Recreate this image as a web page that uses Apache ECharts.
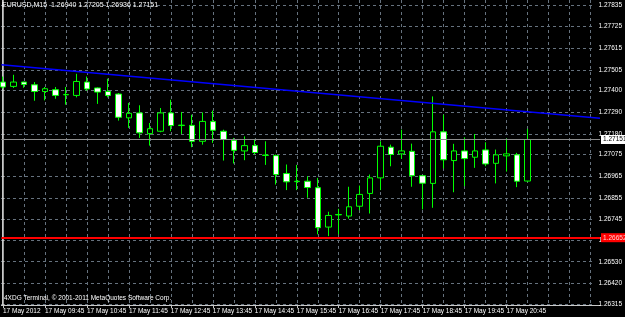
<!DOCTYPE html>
<html>
<head>
<meta charset="utf-8">
<script src="https://cdn.jsdelivr.net/npm/echarts@6/dist/echarts.min.js"></script>
<style>
  html, body { margin: 0; padding: 0; background: #000; }
  #chart { width: 625px; height: 317px; }
</style>
</head>
<body>
<div id="chart"></div>
<script>
// EURUSD M15, 17 May 2012, bars from 08:45 to 21:15
var opens = [1.27443, 1.27421, 1.27443, 1.27429, 1.27395, 1.27404, 1.27378, 1.27375, 1.27443, 1.27413,
             1.27395, 1.27382, 1.27261, 1.27286, 1.27181, 1.27193, 1.27286, 1.27222, 1.27223, 1.27142,
             1.27242, 1.27193, 1.27147, 1.27093, 1.27120, 1.27070, 1.27069, 1.26978, 1.26937, 1.26939,
             1.26906, 1.26706, 1.26768, 1.26762, 1.26812, 1.26877, 1.26956, 1.27112, 1.27078, 1.27091,
             1.26967, 1.26928, 1.27190, 1.27044, 1.27093, 1.27061, 1.27098, 1.27030, 1.27068, 1.27073,
             1.26940];
var highs = [1.27471, 1.27480, 1.27445, 1.27443, 1.27418, 1.27418, 1.27418, 1.27485, 1.27471, 1.27416,
             1.27460, 1.27387, 1.27337, 1.27325, 1.27235, 1.27311, 1.27353, 1.27291, 1.27277, 1.27289,
             1.27298, 1.27201, 1.27159, 1.27167, 1.27154, 1.27142, 1.27075, 1.27024, 1.27022, 1.26964,
             1.26956, 1.26784, 1.26799, 1.26911, 1.26917, 1.26973, 1.27142, 1.27125, 1.27201, 1.27130,
             1.26968, 1.27370, 1.27277, 1.27129, 1.27162, 1.27179, 1.27137, 1.27100, 1.27156, 1.27083,
             1.27205];
var lows = [1.27410, 1.27413, 1.27414, 1.27348, 1.27350, 1.27358, 1.27328, 1.27365, 1.27399, 1.27332,
            1.27365, 1.27247, 1.27210, 1.27159, 1.27120, 1.27188, 1.27193, 1.27179, 1.27112, 1.27125,
            1.27134, 1.27044, 1.27029, 1.27046, 1.27075, 1.27022, 1.26922, 1.26894, 1.26894, 1.26855,
            1.26669, 1.26660, 1.26669, 1.26749, 1.26792, 1.26775, 1.26894, 1.27015, 1.27053, 1.26911,
            1.26796, 1.26804, 1.27004, 1.26883, 1.26914, 1.27007, 1.27015, 1.26928, 1.26988, 1.26909,
            1.26936];
var closes = [1.27418, 1.27443, 1.27431, 1.27395, 1.27409, 1.27375, 1.27380, 1.27446, 1.27408, 1.27392,
              1.27375, 1.27264, 1.27284, 1.27185, 1.27206, 1.27286, 1.27222, 1.27224, 1.27142, 1.27243,
              1.27198, 1.27151, 1.27096, 1.27120, 1.27085, 1.27072, 1.26973, 1.26936, 1.26939, 1.26907,
              1.26703, 1.26765, 1.26770, 1.26809, 1.26872, 1.26956, 1.27117, 1.27075, 1.27093, 1.26967,
              1.26929, 1.27190, 1.27048, 1.27093, 1.27054, 1.27093, 1.27027, 1.27073, 1.27078, 1.26939,
              1.27151];

var timeLabels = ['17 May 2012', '17 May 09:45', '17 May 10:45', '17 May 11:45', '17 May 12:45',
                  '17 May 13:45', '17 May 14:45', '17 May 15:45', '17 May 16:45', '17 May 17:45',
                  '17 May 18:45', '17 May 19:45', '17 May 20:45'];
var timeLabelBars = [0, 4, 8, 12, 16, 20, 24, 28, 32, 36, 40, 44, 48];

var priceTicks = [1.26315, 1.26420, 1.26530, 1.26640, 1.26745, 1.26855, 1.26965, 1.27075,
                  1.27180, 1.27290, 1.27400, 1.27505, 1.27615, 1.27725, 1.27835];

var trendLine = [[-0.15, 1.27531], [56.9, 1.27259]];
var redLevel = 1.26652;

var last = opens.length - 1;
var bid = closes[last];

var candles = [];
for (var i = 0; i < opens.length; i++) {
    candles.push([i, opens[i], closes[i], lows[i], highs[i]]);
}
var gridBars = [];
for (var g = 2; g <= 56; g += 2) gridBars.push(g);

var font = 'Liberation Sans';
var fs = 6.5;
var yMin = 1.26310, yMax = 1.27860;
var xMin = -0.15, xMax = 56.9;
var gridLine = { show: true, lineStyle: { color: '#66727e', type: [3, 3], width: 1 } };
var plotRect = { left: 1, right: 25, top: 0, bottom: 12 };

var chart = echarts.init(document.getElementById('chart'));
chart.setOption({
    animation: false,
    backgroundColor: '#000',
    textStyle: { fontFamily: font },
    title: [{
        text: 'EURUSD,M15  ' + opens[last].toFixed(5) + ' ' + highs[last].toFixed(5) + ' ' +
              lows[last].toFixed(5) + ' ' + closes[last].toFixed(5),
        left: 2, top: 2, padding: 0,
        textStyle: { color: '#fff', fontSize: 7, fontWeight: 'normal', fontFamily: font }
    }, {
        text: '4XDG Terminal, \u00a9 2001-2011 MetaQuotes Software Corp.',
        left: 4, top: 295, padding: 0,
        textStyle: { color: '#fff', fontSize: fs, fontWeight: 'normal', fontFamily: font }
    }],
    // grid 0: candles and time axis, grid 1: price scale only
    grid: [plotRect, plotRect],
    xAxis: [{
        type: 'value', gridIndex: 0,
        min: xMin, max: xMax,
        position: 'bottom',
        axisLine: { lineStyle: { color: '#c8c8c8' } },
        axisTick: { customValues: timeLabelBars, length: 3, lineStyle: { color: '#c8c8c8' } },
        axisLabel: {
            customValues: timeLabelBars,
            showMinLabel: true, showMaxLabel: true,
            align: 'left', margin: 3, fontSize: fs, color: '#fff', fontFamily: font,
            formatter: function (v) { return timeLabels[timeLabelBars.indexOf(Math.round(v))]; }
        },
        splitLine: { show: false }
    }, {
        type: 'value', gridIndex: 0,
        min: xMin, max: xMax,
        position: 'bottom',
        axisLine: { show: false },
        axisTick: { show: false, customValues: gridBars },
        axisLabel: { show: false },
        splitLine: gridLine
    }, {
        type: 'value', gridIndex: 1,
        min: xMin, max: xMax,
        show: false
    }],
    yAxis: [{
        type: 'value', gridIndex: 0,
        min: yMin, max: yMax,
        show: false
    }, {
        type: 'value', gridIndex: 0,
        position: 'left',
        min: yMin, max: yMax,
        axisLine: { show: true, lineStyle: { color: '#9a9a9a' } },
        axisTick: { show: false },
        axisLabel: { show: false },
        splitLine: { show: false }
    }, {
        type: 'value', gridIndex: 1,
        position: 'right',
        min: yMin, max: yMax,
        axisLine: { show: true, lineStyle: { color: '#c8c8c8' } },
        axisTick: { show: true, customValues: priceTicks, length: 2, lineStyle: { color: '#c8c8c8' } },
        axisLabel: {
            customValues: priceTicks,
            showMinLabel: true, showMaxLabel: true,
            margin: 4, fontSize: fs, color: '#fff', fontFamily: font,
            formatter: function (v) { return v.toFixed(5); }
        },
        splitLine: gridLine
    }],
    series: [{
        type: 'candlestick',
        xAxisIndex: 0, yAxisIndex: 0,
        barWidth: 6,
        data: candles,
        itemStyle: {
            color: '#000', color0: '#fff',
            borderColor: '#00ff00', borderColor0: '#00ff00',
            borderColorDoji: '#00ff00',
            borderWidth: 1
        }
    }, {
        type: 'line',
        xAxisIndex: 0, yAxisIndex: 0,
        data: trendLine,
        showSymbol: false,
        silent: true,
        lineStyle: { color: '#0000ff', width: 1.5 },
        markLine: {
            silent: true,
            symbol: 'none',
            precision: 5,
            data: [{
                yAxis: bid,
                lineStyle: { color: '#8c8c8c', type: 'solid', width: 1 },
                label: {
                    position: 'end', distance: 1, formatter: bid.toFixed(5),
                    color: '#000', backgroundColor: '#fff', fontSize: fs, padding: [1, 2], fontFamily: font
                }
            }, {
                yAxis: redLevel,
                lineStyle: { color: '#ff0000', type: 'solid', width: 2 },
                label: {
                    position: 'end', distance: 1, formatter: redLevel.toFixed(5),
                    color: '#ffd0d0', backgroundColor: '#ff0000', fontSize: fs, padding: [1, 2], fontFamily: font
                }
            }]
        }
    }]
});
</script>
</body>
</html>
